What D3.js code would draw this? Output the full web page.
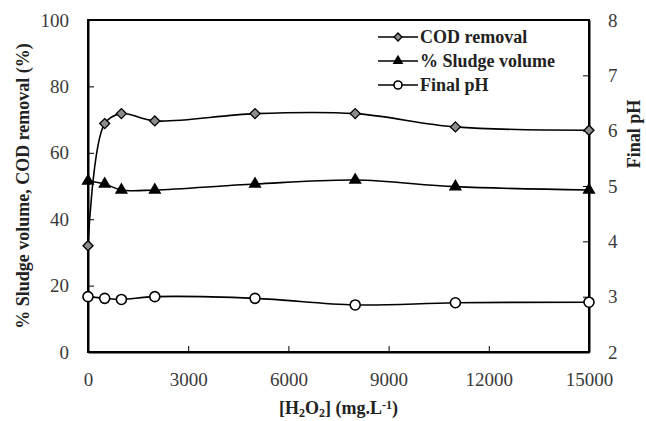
<!DOCTYPE html>
<html>
<head>
<meta charset="utf-8">
<script src="https://cdn.jsdelivr.net/npm/d3@7"></script>
<style>
  body { margin: 0; background: #fff; }
  svg, svg text { font-family: "Liberation Serif", "Times New Roman", serif; }
  .tick text { fill: #3a3a3a; font-size: 19px; font-family: "Liberation Serif", serif; }
  .title { font-weight: bold; fill: #222; }
</style>
</head>
<body>
<div id="chart"></div>
<script>
// data
const h2o2 = [0, 500, 1000, 2000, 5000, 8000, 11000, 15000];
const codRemoval = [32, 68.8, 71.8, 69.6, 71.8, 71.8, 67.8, 66.8];
const sludgeVolume = [51.5, 50.6, 48.8, 48.8, 50.6, 51.8, 49.8, 48.8];
const finalPH = [3.0, 2.97, 2.95, 3.0, 2.97, 2.85, 2.89, 2.9];
const xTicks = [0, 3000, 6000, 9000, 12000, 15000];
const leftTicks = [0, 20, 40, 60, 80, 100];
const rightTicks = [2, 3, 4, 5, 6, 7, 8];
const legendLabels = ["COD removal", "% Sludge volume", "Final pH"];

const W = 646, H = 421;
const margin = { top: 20, right: 57, bottom: 69, left: 88 },
  width = W - margin.left - margin.right,
  height = H - margin.top - margin.bottom;

const svg = d3.select("#chart")
  .append("svg")
  .attr("width", W)
  .attr("height", H);
const g = svg.append("g")
  .attr("transform", `translate(${margin.left},${margin.top})`);

const x = d3.scaleLinear().domain([0, 15000]).range([0, width]);
const y = d3.scaleLinear().domain([0, 100]).range([height, 0]);
const y2 = d3.scaleLinear().domain([2, 8]).range([height, 0]);

// frame
g.append("rect")
  .attr("width", width).attr("height", height)
  .attr("fill", "none").attr("stroke", "#000").attr("stroke-width", 2);

// axes, ticks pointing inward
const xAxis = g.append("g")
  .attr("transform", `translate(0,${height})`)
  .call(d3.axisBottom(x).tickValues(xTicks).tickFormat(d3.format("d"))
    .tickSize(-6).tickSizeOuter(0).tickPadding(21));
const yAxis = g.append("g")
  .call(d3.axisLeft(y).tickValues(leftTicks).tickSize(-6).tickSizeOuter(0).tickPadding(19));
const y2Axis = g.append("g")
  .attr("transform", `translate(${width},0)`)
  .call(d3.axisRight(y2).tickValues(rightTicks).tickFormat(d3.format("d"))
    .tickSize(-6).tickSizeOuter(0).tickPadding(19));
[xAxis, yAxis, y2Axis].forEach(a => {
  a.attr("font-family", null).attr("font-size", null);
  a.select(".domain").attr("stroke-width", 2);
  a.selectAll(".tick line").attr("stroke-width", 1);
});

// lines
const curve = d3.curveCatmullRom.alpha(0.5);
function drawLine(vals, scale) {
  g.append("path")
    .datum(vals)
    .attr("fill", "none")
    .attr("stroke", "#000")
    .attr("stroke-width", 1.6)
    .attr("d", d3.line().x((d, i) => x(h2o2[i])).y(d => scale(d)).curve(curve));
}
drawLine(codRemoval, y);
drawLine(sludgeVolume, y);
drawLine(finalPH, y2);

// markers
function diamonds(sel, s = 64) {
  sel.append("path").attr("d", d3.symbol().type(d3.symbolDiamond2).size(s)())
    .attr("fill", "#8c8c8c").attr("stroke", "#000").attr("stroke-width", 1.3);
}
function triangles(sel, s = 75) {
  sel.append("path").attr("d", d3.symbol().type(d3.symbolTriangle).size(s)())
    .attr("fill", "#000");
}
function circles(sel, r = 5) {
  sel.append("circle").attr("r", r)
    .attr("fill", "#fff").attr("stroke", "#000").attr("stroke-width", 1.6);
}

g.selectAll(".cod").data(codRemoval).join("g")
  .attr("transform", (d, i) => `translate(${x(h2o2[i])},${y(d)})`)
  .call(diamonds);
g.selectAll(".sludge").data(sludgeVolume).join("g")
  .attr("transform", (d, i) => `translate(${x(h2o2[i])},${y(d)})`)
  .call(triangles);
g.selectAll(".ph").data(finalPH).join("g")
  .attr("transform", (d, i) => `translate(${x(h2o2[i])},${y2(d)})`)
  .call(circles);

// legend
const legendMarks = [s => diamonds(s, 40), s => triangles(s, 50), s => circles(s, 4)];
const legend = svg.append("g").attr("transform", "translate(378,37)");
legendLabels.forEach((lab, i) => {
  const row = legend.append("g").attr("transform", `translate(0,${i * 24})`);
  row.append("line").attr("x1", 0).attr("x2", 40)
    .attr("stroke", "#000").attr("stroke-width", 1.6);
  row.append("g").attr("transform", "translate(20,0)").call(legendMarks[i]);
  row.append("text").attr("x", 42).attr("y", 6)
    .attr("class", "title").style("font-size", "18px").text(lab);
});

// axis titles
svg.append("text")
  .attr("class", "title")
  .attr("transform", `translate(29,${margin.top + height / 2}) rotate(-90)`)
  .attr("text-anchor", "middle")
  .style("font-size", "18px")
  .text("% Sludge volume, COD removal (%)");

svg.append("text")
  .attr("class", "title")
  .attr("transform", `translate(640,134) rotate(-90)`)
  .attr("text-anchor", "middle")
  .style("font-size", "18px")
  .text("Final pH");

const xt = svg.append("text")
  .attr("class", "title")
  .attr("x", margin.left + width / 2)
  .attr("y", 414)
  .attr("text-anchor", "middle")
  .style("font-size", "18px");
xt.append("tspan").text("[H");
xt.append("tspan").attr("baseline-shift", "-25%").style("font-size", "12px").text("2");
xt.append("tspan").text("O");
xt.append("tspan").attr("baseline-shift", "-25%").style("font-size", "12px").text("2");
xt.append("tspan").text("] (mg.L");
xt.append("tspan").attr("baseline-shift", "40%").style("font-size", "12px").text("-1");
xt.append("tspan").text(")");
</script>
</body>
</html>
